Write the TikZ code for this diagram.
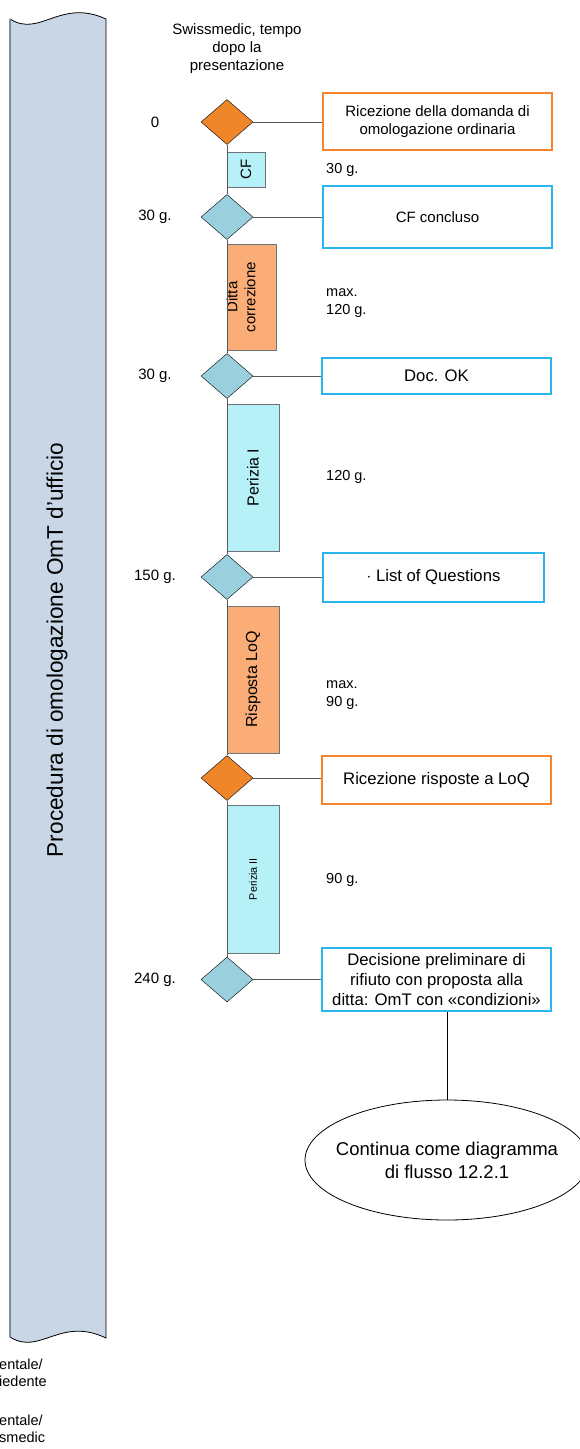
\documentclass[tikz,border=0pt]{standalone}
\usepackage{fontspec}
\setmainfont{Liberation Sans}
\usepackage{xcolor}
\usetikzlibrary{shapes.geometric, positioning}

\definecolor{orangefill}{HTML}{F0862A}
\definecolor{bluefill}{HTML}{9ACFDE}
\definecolor{cyanfill}{HTML}{B7F1F8}
\definecolor{peachfill}{HTML}{FBAD78}
\definecolor{orangeline}{HTML}{F5842D}
\definecolor{blueline}{HTML}{29B6EC}
\definecolor{bannerfill}{HTML}{C8D6E6}
\definecolor{bannerline}{HTML}{7F8C99}
\definecolor{procline}{HTML}{6E7378}
\definecolor{axisline}{HTML}{55595D}

\newcommand\fsz[2]{\fontsize{#1}{#2}\selectfont}

\begin{document}
\begin{tikzpicture}[
      x=1pt, y=-1pt,
      dia/.style={diamond, draw=black, minimum width=52pt, minimum height=45pt,
                  inner sep=0pt},
      diaor/.style={dia, fill=orangefill},
      diabl/.style={dia, fill=bluefill},
      proc/.style={draw=procline, rotate=90, inner sep=0pt, align=center,
                   minimum height=52pt, font=\fsz{16}{19}},
      evbox/.style={draw=blueline, line width=1.2pt, fill=white, align=center,
                    minimum width=229pt, inner sep=0pt, font=\fsz{16.7}{20}},
      evor/.style={evbox, draw=orangeline},
      dur/.style={anchor=west, align=left, inner sep=0pt, font=\fsz{14.5}{18}},
      tlab/.style={inner sep=0pt, font=\fsz{15}{18}},
      link/.style={draw=axisline, line width=0.9pt}
    ]
    \useasboundingbox (0,0) rectangle (579,1449);

    % banner
    \path[fill=bannerfill] (10,19) .. controls (40,38) and (60,-2) .. (106,19)
      -- (106,1338) .. controls (60,1316) and (40,1356) .. (10,1337) -- cycle;
    \draw[black, line width=0.8pt] (10,19) .. controls (40,38) and (60,-2) .. (106,19)
      -- (106,1338) .. controls (60,1316) and (40,1356) .. (10,1337);
    \draw[bannerline, line width=1.6pt] (10,19) -- (10,1337);
    \node[rotate=90, font=\fsz{22.6}{27}] (title) at (57,650)
      {Procedura di omologazione OmT d’ufficio};

    \node[align=left, anchor=west, inner sep=0pt, font=\fsz{14.5}{17}] (lanea) at (-1,1373)
      {entale/\\iedente};
    \node[align=left, anchor=west, inner sep=0pt, font=\fsz{14.5}{17}] (laneb) at (-1,1429)
      {entale/\\smedic};

    \node[align=center, inner sep=0pt, font=\fsz{15}{18}] (head) at (237,49)
      {Swissmedic, tempo\\dopo la\\presentazione};

    % milestones
    \node[diaor] (d1) at (227,122) {};
    \node[diabl] (d2) at (227,217) {};
    \node[diabl] (d3) at (227,376) {};
    \node[diabl] (d4) at (227,577) {};
    \node[diaor] (d5) at (227,778) {};
    \node[diabl] (d6) at (227,979.5) {};

    \node[tlab] (t1) at (155,122) {0};
    \node[tlab] (t2) at (155,217) {30 g.};
    \node[tlab] (t3) at (155,376) {30 g.};
    \node[tlab] (t4) at (155,577) {150 g.};
    \node[tlab] (t5) at (155,979.5) {240 g.};

    % phases
    \node[proc, fill=cyanfill, minimum width=35pt, minimum height=38pt, font=\fsz{15}{18}]
      (cf) at (246,169.5) {CF};
    \node[proc, fill=peachfill, minimum width=106pt, minimum height=49pt] (ditta) at (251.5,297) {};
    \node[rotate=90, align=center, inner sep=0pt, font=\fsz{15}{18}] (dittatxt) at (241,297)
      {Ditta\\correzione};
    \node[proc, fill=cyanfill, minimum width=147pt] (per1) at (253,477.5) {Perizia I};
    \node[proc, fill=peachfill, minimum width=147pt] (loq) at (253,679.5) {Risposta LoQ};
    \node[proc, fill=cyanfill, minimum width=148pt, font=\fsz{10.8}{13}] (per2) at (253,879)
      {Perizia II};

    \node[dur] (g1) at (326,170) {30 g.};
    \node[dur] (g2) at (326,303) {max.\\120 g.};
    \node[dur] (g3) at (326,477) {120 g.};
    \node[dur] (g4) at (326,695) {max.\\90 g.};
    \node[dur] (g5) at (326,880) {90 g.};

    % events
    \node[evor, line width=1.8pt, minimum height=57pt, font=\fsz{15}{18}] (ev1) at (437.5,121.5)
      {Ricezione della domanda di\\omologazione ordinaria};
    \node[evbox, minimum height=62pt, font=\fsz{15}{18}] (ev2) at (437.5,217) {CF concluso};
    \node[evbox, minimum height=36pt] (ev3) at (436.5,376) {Doc. OK};
    \node[evbox, minimum width=221pt, minimum height=49pt] (ev4) at (433.5,577.5)
      {$\cdot$ List of Questions};
    \node[evor, minimum height=48pt] (ev5) at (436.5,780) {Ricezione risposte a LoQ};
    \node[evbox, minimum height=63pt] (ev6) at (436.5,979.5)
      {Decisione preliminare di\\rifiuto con proposta alla\\ditta: OmT con «condizioni»};

    \node[ellipse, draw=black, line width=0.8pt, minimum width=284pt, minimum height=120pt,
          inner xsep=-11pt, inner ysep=0pt, align=center, font=\fsz{18.5}{23}]
      (cont) at (447,1160) {Continua come diagramma\\di flusso 12.2.1};

    % connectors
    \draw[link] (d1.south) -- (d2.north);
    \draw[link] (d2.south) -- (d3.north);
    \draw[link] (d3.south) -- (d4.north);
    \draw[link] (d4.south) -- (d5.north);
    \draw[link] (d5.south) -- (d6.north);
    \foreach \d/\e in {d1/ev1, d2/ev2, d3/ev3, d4/ev4, d5/ev5, d6/ev6}
      \draw[link] (\d.east) -- (\d.east -| \e.west);
    \draw[black, line width=0.8pt] (cont.north) -- (cont.north |- ev6.south);
  \end{tikzpicture}
\end{document}
